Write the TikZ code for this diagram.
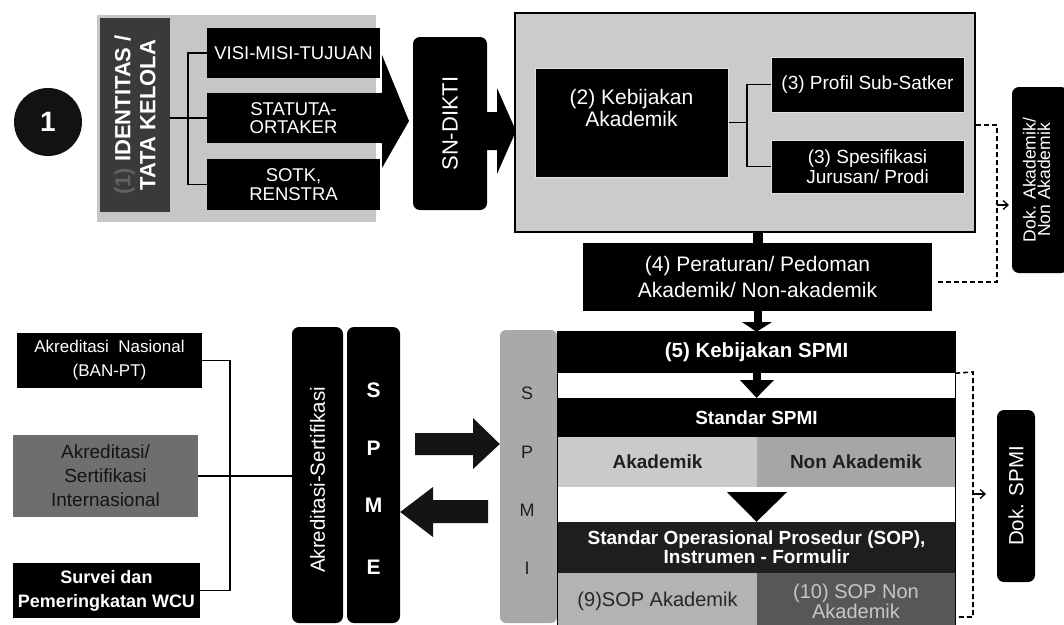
\documentclass[tikz,border=0pt]{standalone}
\usepackage{fontspec}
\setmainfont{Liberation Sans}
\usetikzlibrary{arrows.meta}
\newcommand\fsz[2]{\fontsize{#1}{#2}\selectfont}
\definecolor{panelgray}{HTML}{CBCBCB}
\definecolor{idgray}{HTML}{C6C6C6}
\definecolor{idbar}{HTML}{3A3A3A}
\definecolor{lightcell}{HTML}{CACACA}
\definecolor{midcell}{HTML}{A6A6A6}
\definecolor{spmigray}{HTML}{A9A9A9}
\definecolor{sopgray}{HTML}{B3B3B3}
\definecolor{sopdark}{HTML}{575757}
\definecolor{intgray}{HTML}{6E6E6E}
\definecolor{nearblack}{HTML}{1E1E1E}
\begin{document}
\begin{tikzpicture}[x=1pt,y=-1pt,
  blk/.style={fill=black, text=white, inner sep=0pt, align=center},
  edged/.style={blk, draw=white!88!black, line width=1pt},
  rblk/.style={fill=black, rounded corners=7pt, inner sep=0pt},
  cell/.style={inner sep=0pt, align=center},
  rtext/.style={rotate=90, inner sep=0pt, align=center},
  conn/.style={draw=black, line width=1.3pt},
  dashconn/.style={draw=black, line width=1.6pt, dash pattern=on 5pt off 3pt},
  barb/.style={-{Straight Barb[length=5pt,width=9pt,line width=1.3pt]}}
]
\useasboundingbox (0,0) rectangle (1064,624);
\fill[white] (0,0) rectangle (1064,624);

% ---------- step 1 : identity / governance ----------
\node[circle, fill=black!93, text=white, minimum size=68pt, inner sep=0pt,
      font=\fsz{28}{30}\bfseries] (one) at (48,122) {1};

\node[fill=idgray, minimum width=279, minimum height=207, inner sep=0pt] (idpanel) at (236.5,118.5) {};
\node[fill=idbar, minimum width=70, minimum height=194, inner sep=0pt] (idbarbox) at (135,115) {};
\node[rtext, text=white, font=\fsz{22}{25}\bfseries] (idtext) at (idbarbox.center)
  {\textcolor{black!62}{(1)} IDENTITAS /\\TATA KELOLA};

\node[blk, minimum width=173, minimum height=50, font=\fsz{18.5}{18}] (visi) at (293.5,53) {VISI-MISI-TUJUAN};
\node[blk, minimum width=173, minimum height=50, font=\fsz{18.5}{18}] (statuta) at (293.5,118) {STATUTA-\\ORTAKER};
\node[blk, minimum width=173, minimum height=51, font=\fsz{18.5}{19}] (sotk) at (293.5,184.5) {SOTK,\\RENSTRA};

\coordinate (jid) at (188,118);
\draw[conn] (idbarbox.east |- statuta.west) -- (statuta.west);
\draw[conn] (visi.west) -| (jid) |- (sotk.west);

% block arrow towards SN-DIKTI
\fill[black] (statuta.north east) -- (382,93) -- (382,55) -- (409,121) -- (382,168) -- (382,143) -- (statuta.south east) -- cycle;

% ---------- SN-DIKTI ----------
\node[rblk, minimum width=74, minimum height=173] (sndikti) at (450,123.5) {};
\node[rtext, text=white, font=\fsz{22}{24}] (sntext) at (sndikti.center) {SN-DIKTI};
\fill[black] (sndikti.east |- 0,112) -- (497,112) -- (497,88) -- (516,131) -- (497,174) -- (497,150) -- (sndikti.east |- 0,150) -- cycle;

% ---------- academic policy panel ----------
\node[fill=panelgray, draw=black, line width=1.5pt, minimum width=460, minimum height=219, inner sep=0pt] (panel) at (745,122.5) {};
\node[edged, minimum width=193, minimum height=109] (keb) at (631.5,122.5) {};
\node[cell, text=white, font=\fsz{21}{22}] (kebtext) at (631.5,108) {(2) Kebijakan\\Akademik};
\node[edged, minimum width=193, minimum height=55, font=\fsz{19}{20}] (profil) at (867.5,84.5) {(3) Profil Sub-Satker};
\node[edged, minimum width=193, minimum height=53, font=\fsz{19}{20}] (spes) at (867.5,166.5) {(3) Spesifikasi\\Jurusan/ Prodi};

\coordinate (jk) at (747,122.5);
\draw[conn] (keb.east) -- (jk);
\draw[conn] (profil.west) -| (jk) |- (spes.west);

% ---------- regulations ----------
\node[blk, minimum width=349, minimum height=68, font=\fsz{21}{26}] (peraturan) at (757.5,277) {(4) Peraturan/ Pedoman\\Akademik/ Non-akademik};
\draw[line width=10pt] (peraturan.north) -- (peraturan.north |- panel.south);

% academic documents
\node[rblk, minimum width=56, minimum height=186] (dokak) at (1040,180) {};
\node[rtext, text=white, font=\fsz{17.5}{14.5}] (dokaktext) at (1036.5,180) {Dok. Akademik/\\Non Akademik};
\coordinate (dk1) at (997,125);
\coordinate (dk2) at (997,205);
\coordinate (dk3) at (1009,205);
\draw[dashconn] (panel.east |- dk1) -- (dk1) |- ([xshift=6pt,yshift=-5pt]peraturan.east);
\draw[line width=1.3pt, barb] (dk2) -- (dk3);

% ---------- internal quality assurance (SPMI) ----------
\node[fill=spmigray, rounded corners=6pt, minimum width=57, minimum height=293, inner sep=0pt] (spmibar) at (528.5,476.5) {};
\foreach \l/\yy/\nm in {S/393/ls, P/452/lp, M/510/lm, I/568/li}
  \node[font=\fsz{18}{20}, text=black!88, inner sep=0pt] (spmi\nm) at (527,\yy) {\l};

\node[blk, minimum width=397, minimum height=41, font=\fsz{20.5}{22}\bfseries] (k5) at (756.5,352.5) {(5) Kebijakan SPMI};
\node[blk, minimum width=397, minimum height=39, font=\fsz{19}{20}\bfseries] (std) at (756.5,417.5) {Standar SPMI};
\node[cell, fill=lightcell, text=black!88, minimum width=199, minimum height=50, font=\fsz{19}{20}\bfseries] (akad) at (657.5,462) {Akademik};
\node[cell, fill=midcell, text=black!88, minimum width=198, minimum height=50, font=\fsz{19}{20}\bfseries] (nonak) at (856,462) {Non Akademik};
\node[blk, fill=nearblack, minimum width=397, minimum height=51, font=\fsz{19}{19}\bfseries] (sop) at (756.5,547.5) {Standar Operasional Prosedur (SOP),\\Instrumen - Formulir};
\node[cell, fill=sopgray, text=black!85, minimum width=199, minimum height=57, font=\fsz{20}{20}] (sop9) at (657.5,601.5) {(9)SOP Akademik};
\node[cell, fill=sopdark, text=black!22, minimum width=198, minimum height=57, font=\fsz{20}{20}] (sop10) at (856,601.5) {(10) SOP Non\\Akademik};
\draw[line width=0.8pt] (k5.north west) rectangle (sop10.south east);

% flow arrows inside the SPMI stack
\fill[black] ([xshift=-4pt]peraturan.south) rectangle ([xshift=4pt]peraturan.south |- 0,323);
\fill[black] (742,322) -- (772,322) -- (k5.north) -- cycle;
\fill[black] ([xshift=-4pt]k5.south) rectangle ([xshift=4pt]k5.south |- 0,381);
\fill[black] (740,380) -- (774,380) -- (std.north) -- cycle;
\fill[black] (727,492) -- (787,492) -- (sop.north) -- cycle;

% SPMI documents
\node[rblk, minimum width=38, minimum height=172] (doksp) at (1016,496) {};
\node[rtext, text=white, font=\fsz{20.5}{22}] (dokspt) at (doksp.center) {Dok. SPMI};
\coordinate (ds1) at (973,372);
\coordinate (ds2) at (973,617);
\coordinate (ds3) at (973,494);
\coordinate (ds4) at (986,494);
\draw[dashconn] (k5.south east) -- (ds1) -- (ds2) -- (ds2 -| sop10.east);
\draw[line width=1.3pt, barb] (ds3) -- (ds4);

% ---------- external quality assurance (SPME) ----------
\node[blk, minimum width=185, minimum height=55, font=\fsz{17}{24}] (aknas) at (109.5,360.5) {Akreditasi\ \ Nasional\\(BAN-PT)};
\node[cell, fill=intgray, text=black!92, minimum width=185, minimum height=82, font=\fsz{19}{24}] (akint) at (105.5,476) {Akreditasi/\\Sertifikasi\\Internasional};
\node[blk, minimum width=187, minimum height=55, font=\fsz{18}{24}\bfseries] (survei) at (106.5,590.5) {Survei dan\\Pemeringkatan WCU};

\node[rblk, minimum width=51, minimum height=296] (akrs) at (317.5,475) {};
\node[rtext, text=white, font=\fsz{20.5}{22}] (akrstext) at (317.5,480) {Akreditasi-Sertifikasi};
\node[rblk, minimum width=53, minimum height=296] (spme) at (373.5,475) {};
\foreach \l/\yy/\nm in {S/390/es, P/448/ep, M/505/em, E/567/ee}
  \node[font=\fsz{21}{22}\bfseries, text=white, inner sep=0pt] (spme\nm) at (373.5,\yy) {\l};

\coordinate (jl) at (230,476);
\draw[conn] (aknas.east) -| (jl) |- (survei.east);
\draw[conn] (akint.east) -- (akint.east -| akrs.west);

% exchange arrows between SPME and SPMI
\fill[black!92] (415,433) -- (473,433) -- (473,418) -- (spmibar.west |- 0,444) -- (473,469) -- (473,455) -- (415,455) -- cycle;
\fill[black!92] (488,500) -- (433,500) -- (433,487) -- (spme.east |- 0,512) -- (433,537) -- (433,523) -- (488,523) -- cycle;
\end{tikzpicture}
\end{document}
